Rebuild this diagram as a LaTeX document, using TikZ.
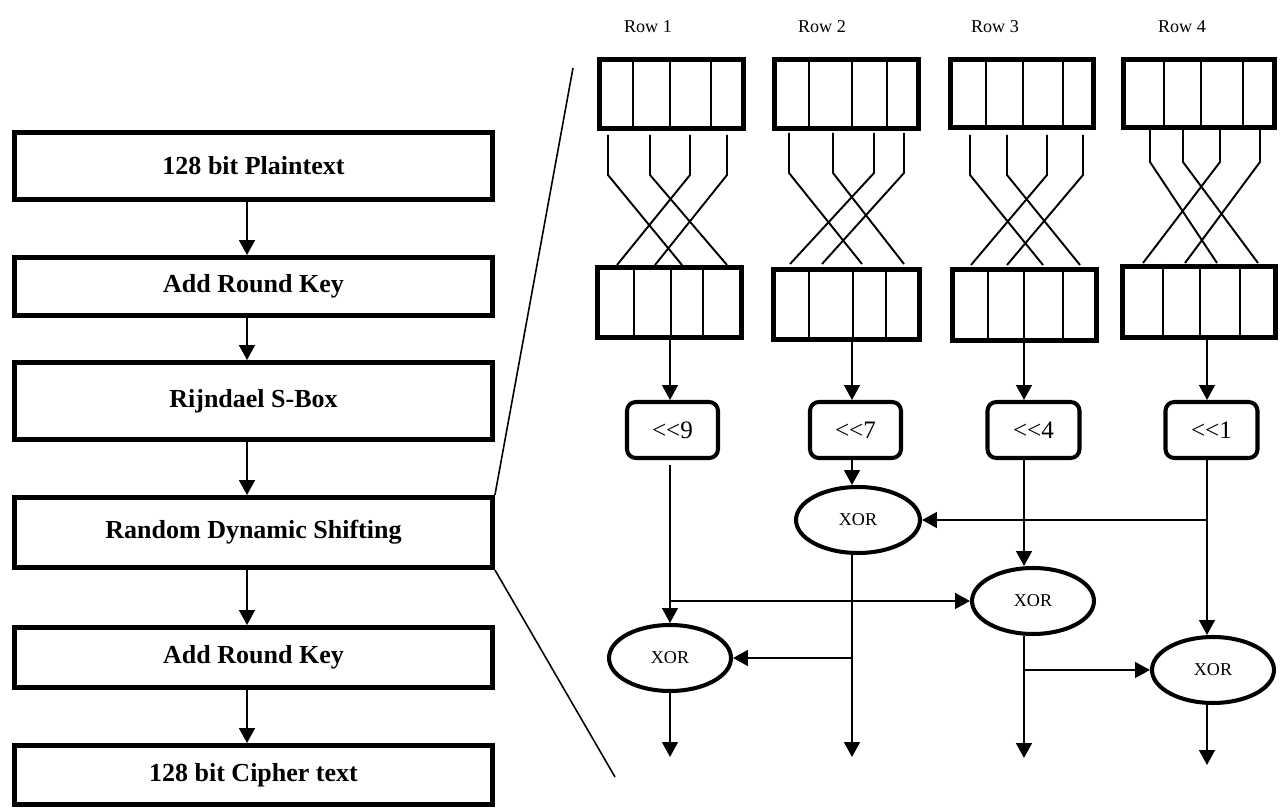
\documentclass[tikz,border=0pt]{standalone}
\usepackage{fontspec}
\setmainfont{Liberation Serif}
\usetikzlibrary{arrows.meta,shapes.geometric}

% register box: name, x0, y0, x1, y1 (outer edges), three cell dividers
\newcommand\regcell[8]{%
  \node[reg, minimum width={(#4-#2-5)*0.02cm}, minimum height={(#5-#3-5)*0.02cm}]
    (#1) at ({(#2+#4)/2},{(#3+#5)/2}) {};
  \foreach \d in {#6,#7,#8} \draw[divider] (\d,#3) -- (\d,#5);
}

\tikzset{
  lbox/.style={draw, line width=2.8pt, inner sep=0pt, minimum width=9.56cm,
    font=\fontsize{14.8}{17}\selectfont\bfseries},
  reg/.style={draw, line width=2.8pt, inner sep=0pt},
  divider/.style={line width=1pt},
  wire/.style={line width=1.1pt},
  shiftbox/.style={draw, line width=2.3pt, rounded corners=5pt, inner sep=0pt,
    minimum height=1.12cm, font=\fontsize{14.3}{16}\selectfont},
  xorbox/.style={draw, ellipse, line width=2.3pt, inner sep=0pt,
    minimum width=2.44cm, minimum height=1.32cm, font=\fontsize{10.3}{12}\selectfont},
  rowlabel/.style={font=\fontsize{10.3}{12}\selectfont},
  arr/.style={line width=1.1pt, -{Triangle[length=8.5pt,width=9pt]}},
  line/.style={line width=1.1pt},
  zoomline/.style={line width=0.9pt},
}

\begin{document}
\begin{tikzpicture}[x=0.02cm, y=-0.02cm]
\useasboundingbox (0,0) rectangle (1286,810);

% ---------- encryption flow ----------
\node[lbox, minimum height=1.34cm] (b1) at (253.5,166) {128 bit Plaintext};
\node[lbox, minimum height=1.16cm] (b2) at (253.5,286.5) {Add Round Key};
\node[lbox, minimum height=1.54cm] (b3) at (253.5,401) {Rijndael S-Box};
\node[lbox, minimum height=1.40cm] (b4) at (253.5,532.5) {Random Dynamic Shifting};
\node[lbox, minimum height=1.20cm] (b5) at (253.5,657.5) {Add Round Key};
\node[lbox, minimum height=1.18cm] (b6) at (253.5,775) {128 bit Cipher text};

\foreach \u/\v in {b1/b2,b2/b3,b3/b4,b4/b5,b5/b6}
  \draw[arr] ([xshift=-0.13cm]\u.south) -- ([xshift=-0.13cm]\v.north);

% ---------- detail of the shifting step ----------
\coordinate (zt) at (573,68);
\coordinate (zb) at (615,777);
\draw[zoomline] (b4.north east) -- (zt);
\draw[zoomline] (b4.south east) -- (zb);

% row labels
\node[rowlabel] (l1) at (648,27) {Row 1};
\node[rowlabel] (l2) at (822,27) {Row 2};
\node[rowlabel] (l3) at (995,27) {Row 3};
\node[rowlabel] (l4) at (1182,27) {Row 4};

% state registers before and after the byte permutation
\regcell{t1}{597}{57}{746}{131}{633}{670}{711}
\regcell{t2}{772}{57}{921}{131}{809}{852}{887}
\regcell{t3}{948}{57}{1096}{130}{986}{1023}{1063}
\regcell{t4}{1121}{57}{1277}{130}{1164}{1201}{1243}
\regcell{r1}{595}{265}{744}{340}{634}{671}{703}
\regcell{r2}{771}{267}{922}{342}{809}{853}{886}
\regcell{r3}{950}{267}{1099}{343}{988}{1024}{1063}
\regcell{r4}{1120}{264}{1278}{340}{1163}{1200}{1240}

% crossing wires
\foreach \a/\b in {608/682,650/727,690/617,727/655}
  \draw[wire] (\a,135) -- (\a,175) -- (\b,265);
\foreach \a/\b in {789/862,833/904,874/790,904/822}
  \draw[wire] (\a,133) -- (\a,173) -- (\b,264);
\foreach \a/\b in {970/1043,1007/1080,1047/971,1083/1007}
  \draw[wire] (\a,135) -- (\a,175) -- (\b,265);
\foreach \a/\b in {1150/1217,1183/1258,1220/1143,1260/1185}
  \draw[wire] (\a,130) -- (\a,162) -- (\b,263);

% column positions of the data paths
\coordinate (c1) at (670,0);
\coordinate (c2) at (852,0);
\coordinate (c3) at (1024,0);
\coordinate (c4) at (1207,0);

% rotations
\node[shiftbox, minimum width=1.82cm] (s1) at (672.5,430) {<{}<9};
\node[shiftbox, minimum width=1.82cm] (s2) at (855.5,430) {<{}<7};
\node[shiftbox, minimum width=1.84cm] (s3) at (1033.5,430) {<{}<4};
\node[shiftbox, minimum width=1.84cm] (s4) at (1211.5,430) {<{}<1};

\draw[arr] (c1 |- r1.south) -- (c1 |- s1.north);
\draw[arr] (c2 |- r2.south) -- (c2 |- s2.north);
\draw[arr] (c3 |- r3.south) -- (c3 |- s3.north);
\draw[arr] (c4 |- r4.south) -- (c4 |- s4.north);

% XOR stages
\node[xorbox] (x1) at (670,658) {XOR};
\node[xorbox, minimum width=2.48cm] (x2) at (858,520) {XOR};
\node[xorbox] (x3) at (1033,601) {XOR};
\node[xorbox] (x4) at (1213,670) {XOR};

\coordinate (o1) at (670,757);
\coordinate (o2) at (852,757);
\coordinate (o3) at (1024,758);
\coordinate (o4) at (1207,765);

% row 1 path
\draw[arr] ([yshift=-0.1cm]c1 |- s1.south) -- (c1 |- x1.north);
\draw[arr] (c1 |- x3.west) -- (x3.west);
\draw[arr] (c1 |- x1.south) -- (o1);

% row 2 path
\draw[arr] (c2 |- s2.south) -- (c2 |- x2.north);
\draw[arr] (c2 |- x2.south) -- (o2);
\draw[arr] (c2 |- x1.east) -- (x1.east);

% row 3 path
\draw[arr] (c3 |- s3.south) -- (c3 |- x3.north);
\draw[arr] (c3 |- x3.south) -- (o3);
\draw[arr] (c3 |- x4.west) -- (x4.west);

% row 4 path
\draw[arr] (c4 |- s4.south) -- (c4 |- x4.north);
\draw[arr] (c4 |- x2.east) -- (x2.east);
\draw[arr] (c4 |- x4.south) -- (o4);

\end{tikzpicture}
\end{document}
